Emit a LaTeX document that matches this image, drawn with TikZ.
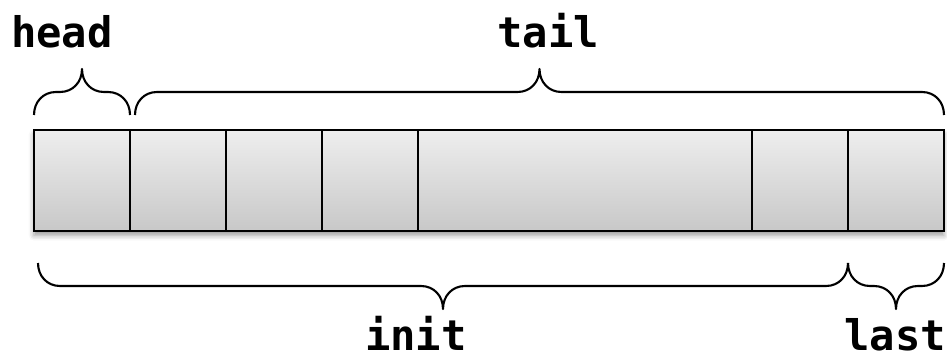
\documentclass[tikz,border=0pt]{standalone}
\usepackage{fontspec}
\setmonofont{DejaVu Sans Mono}
\usetikzlibrary{positioning, shadows.blur, backgrounds}
\definecolor{cellTop}{RGB}{238,238,238}
\definecolor{cellBot}{RGB}{200,200,200}
\tikzset{
  Cell/.style = {
    draw, line width = 1.3pt,
    top color = cellTop, bottom color = cellBot,
    minimum width = 1.92cm, minimum height = 2.02cm,
    inner sep = 0pt, outer sep = 0pt,
  },
  Label/.style = {
    font = \fontsize{24}{28}\selectfont\ttfamily\bfseries,
    inner sep = 0pt,
  },
  Curly/.style = {
    draw, line width = 1.2pt, line join = round,
  }
}
% brace from x=#1 to x=#2, ends at y=#3, tip towards #4 (-1 up, 1 down)
\newcommand{\curly}[4]{%
  \draw[Curly] (#1,#3)
    .. controls (#1,{#3+(#4)*13}) and ({#1+9},{#3+(#4)*23}) .. ({#1+22},{#3+(#4)*23})
    -- ({(#1+#2)/2-22},{#3+(#4)*23})
    .. controls ({(#1+#2)/2-9},{#3+(#4)*23}) and ({(#1+#2)/2},{#3+(#4)*33}) .. ({(#1+#2)/2},{#3+(#4)*46})
    .. controls ({(#1+#2)/2},{#3+(#4)*33}) and ({(#1+#2)/2+9},{#3+(#4)*23}) .. ({(#1+#2)/2+22},{#3+(#4)*23})
    -- ({#2-22},{#3+(#4)*23})
    .. controls ({#2-9},{#3+(#4)*23}) and (#2,{#3+(#4)*13}) .. (#2,#3);
}

\begin{document}
\begin{tikzpicture}[x=0.02cm, y=-0.02cm]
  \useasboundingbox (0,0) rectangle (947,358);

  % the list cells
  \node[Cell, anchor=north west] (c1) at (34,130) {};
  \node[Cell, right=0pt of c1] (c2) {};
  \node[Cell, right=0pt of c2] (c3) {};
  \node[Cell, right=0pt of c3] (c4) {};
  \node[Cell, right=0pt of c4, minimum width=6.68cm] (c5) {};
  \node[Cell, right=0pt of c5] (c6) {};
  \node[Cell, right=0pt of c6] (c7) {};
  \begin{scope}[on background layer]
    \path[blur shadow={shadow xshift=0pt, shadow yshift=-2.5pt,
      shadow blur radius=3pt, shadow opacity=40}]
      (c1.north west) rectangle (c7.south east);
  \end{scope}

  % braces
  \curly{34}{130}{115}{-1}
  \curly{135}{944}{115}{-1}
  \curly{38}{848}{263}{1}
  \curly{848}{944}{263}{1}

  % labels
  \node[Label, anchor=base] (head) at (62,48) {head};
  \node[Label, anchor=base] (tail) at (548,48) {tail};
  \node[Label, anchor=base] (init) at (416,350) {init};
  \node[Label, anchor=base] (last) at (895,350) {last};
\end{tikzpicture}
\end{document}
